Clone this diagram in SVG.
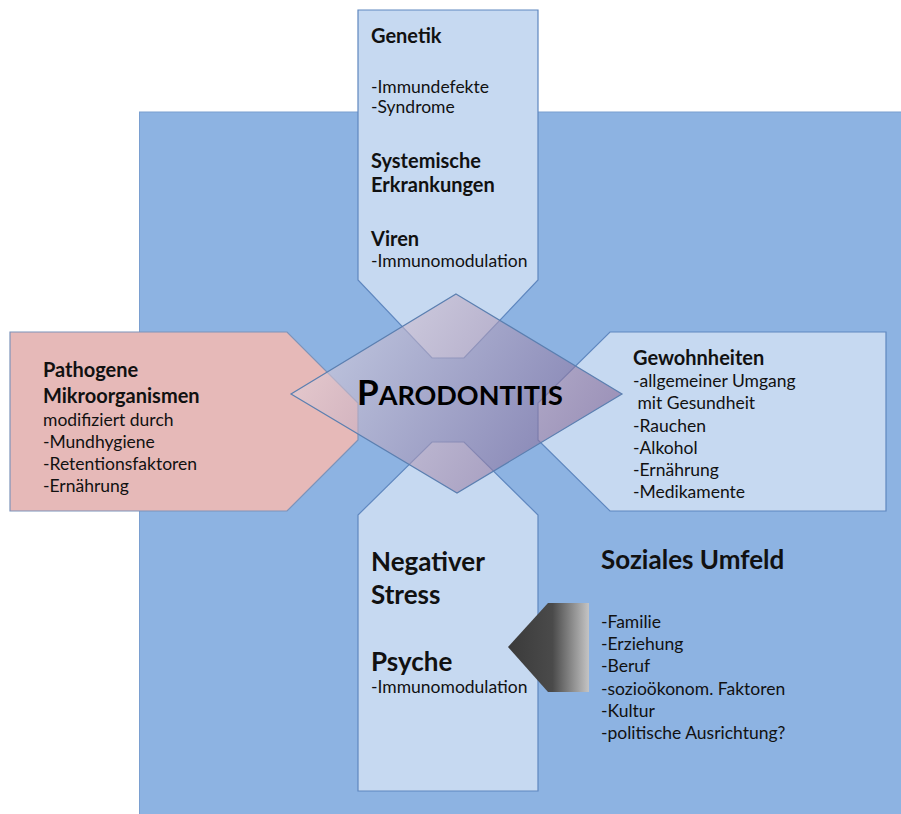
<svg xmlns="http://www.w3.org/2000/svg" width="901" height="814" viewBox="0 0 901 814">
<defs>
<style>
.bg{fill:#8db3e2;stroke:#7a9fd0;stroke-width:1}
.box{fill:#c6d9f1;stroke:#5f87bf;stroke-width:1.2}
.pink{fill:#e6b9b8;stroke:#7d93b9;stroke-width:1.2}
.t{font-family:Lato,"Open Sans","Liberation Sans",sans-serif;font-size:17.5px;fill:#111}
.h{font-family:Lato,"Open Sans","Liberation Sans",sans-serif;font-size:20px;font-weight:bold;fill:#111}
.H{font-family:Lato,"Open Sans","Liberation Sans",sans-serif;font-size:26px;font-weight:bold;fill:#111}
</style>
<linearGradient id="dg" gradientUnits="userSpaceOnUse" x1="330" y1="310" x2="600" y2="480">
<stop offset="0" stop-color="#e4d4dc"/>
<stop offset="1" stop-color="#76568a"/>
</linearGradient>
<linearGradient id="ag" gradientUnits="userSpaceOnUse" x1="508" y1="0" x2="589" y2="0">
<stop offset="0" stop-color="#3a3a3a"/>
<stop offset="0.55" stop-color="#4a4a4a"/>
<stop offset="1" stop-color="#c4c4c4"/>
</linearGradient>
</defs>
<rect width="901" height="814" fill="#ffffff"/>
<g id="background">
<rect class="bg" x="139.5" y="112" width="780" height="720"/>
</g>
<g id="node-genetik">
<polygon class="box" points="358,10 538,10 538,280 464,358 432,358 358,280"/>
<text class="h" x="371" y="43">Genetik</text>
<text class="t" x="371" y="93">-Immundefekte</text>
<text class="t" x="371" y="113">-Syndrome</text>
<text class="h" x="371" y="168">Systemische</text>
<text class="h" x="371" y="192">Erkrankungen</text>
<text class="h" x="371" y="246">Viren</text>
<text class="t" x="371" y="267">-Immunomodulation</text>
</g>
<g id="node-stress">
<polygon class="box" points="432,442 464,442 538,515 538,791 358,791 358,515"/>
<text class="H" x="371" y="571">Negativer</text>
<text class="H" x="371" y="604">Stress</text>
<text class="H" x="371" y="671">Psyche</text>
<text class="t" x="371" y="693">-Immunomodulation</text>
</g>
<g id="node-pathogene">
<polygon class="pink" points="10,332 287,332 358,403 358,440 287,511 10,511"/>
<text class="h" x="43" y="377">Pathogene</text>
<text class="h" x="43" y="403">Mikroorganismen</text>
<text class="t" x="43" y="426">modifiziert durch</text>
<text class="t" x="43" y="448">-Mundhygiene</text>
<text class="t" x="43" y="470">-Retentionsfaktoren</text>
<text class="t" x="43" y="492">-Ernährung</text>
</g>
<g id="node-gewohnheiten">
<polygon class="box" points="610,332 886,332 886,511 610,511 538,440 538,403"/>
<text class="h" x="633" y="365">Gewohnheiten</text>
<text class="t" x="633" y="387">-allgemeiner Umgang</text>
<text class="t" x="633" y="409" xml:space="preserve"> mit Gesundheit</text>
<text class="t" x="633" y="432">-Rauchen</text>
<text class="t" x="633" y="454">-Alkohol</text>
<text class="t" x="633" y="476">-Ernährung</text>
<text class="t" x="633" y="498">-Medikamente</text>
</g>
<g id="node-parodontitis">
<polygon points="456,294 622,394 457,493 291,394" fill="url(#dg)" fill-opacity="0.58" stroke="#5b7fb0" stroke-width="1.2"/>
<text x="357" y="405" font-family="Lato,'Open Sans','Liberation Sans',sans-serif" font-weight="bold" fill="#000"><tspan font-size="35px">P</tspan><tspan font-size="27px">ARODONTITIS</tspan></text>
</g>
<g id="node-soziales">
<text class="H" x="601" y="569">Soziales Umfeld</text>
<text class="t" x="601" y="628">-Familie</text>
<text class="t" x="601" y="650">-Erziehung</text>
<text class="t" x="601" y="672">-Beruf</text>
<text class="t" x="601" y="695">-sozioökonom. Faktoren</text>
<text class="t" x="601" y="717">-Kultur</text>
<text class="t" x="601" y="739">-politische Ausrichtung?</text>
</g>
<g id="connectors">
<polygon points="548,603 589,603 589,692 548,692 508,647" fill="url(#ag)"/>
</g>
</svg>
